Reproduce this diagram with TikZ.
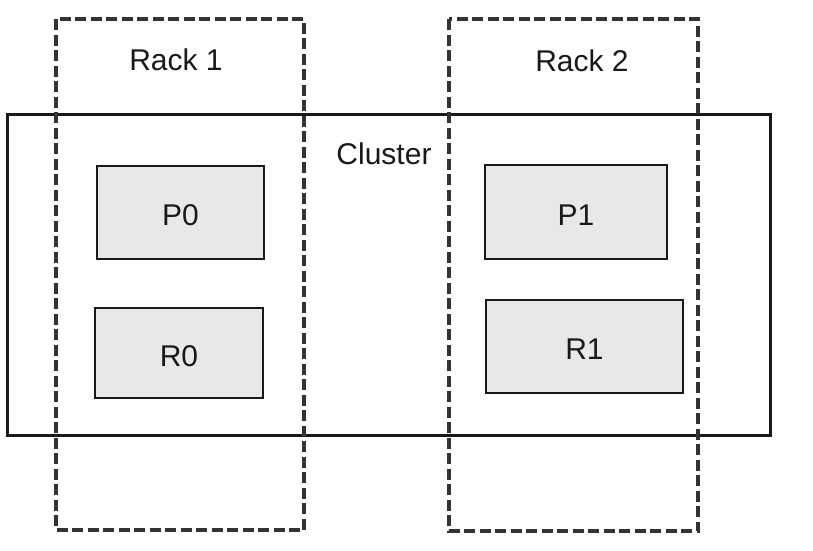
\documentclass[tikz,border=0pt]{standalone}
\usepackage{fontspec}
\setmainfont{Liberation Sans}
\begin{document}
\begin{tikzpicture}[x=1pt,y=-1pt,
  rack/.style={draw=black!80, line width=3.2pt, dash pattern=on 11pt off 4.5pt},
  clusterbox/.style={draw=black!90, line width=3pt},
  part/.style={draw=black!90, line width=2.5pt, fill=gray!18},
  lbl/.style={font=\fontsize{30}{33}\selectfont, text=black!90, inner sep=0pt},
  boxlbl/.style={lbl, yshift=-3pt}]
\useasboundingbox (0,0) rectangle (813,550);
\draw[clusterbox] (7,114) rectangle (770,435);
\draw[rack] (56,19) rectangle (304,530);
\draw[rack] (449,19) rectangle (698,531);
\draw[part] (97,166) rectangle (264,259) node[boxlbl, midway] (p0) {P0};
\draw[part] (485,165) rectangle (667,259) node[boxlbl, midway] (p1) {P1};
\draw[part] (95,308) rectangle (263,398) node[boxlbl, midway] (r0) {R0};
\draw[part] (486,300) rectangle (683,393) node[boxlbl, midway] (r1) {R1};
\node[lbl] (rack1) at (176,60) {Rack 1};
\node[lbl] (rack2) at (582,61) {Rack 2};
\node[lbl] (cluster) at (384,154) {Cluster};
\end{tikzpicture}
\end{document}
